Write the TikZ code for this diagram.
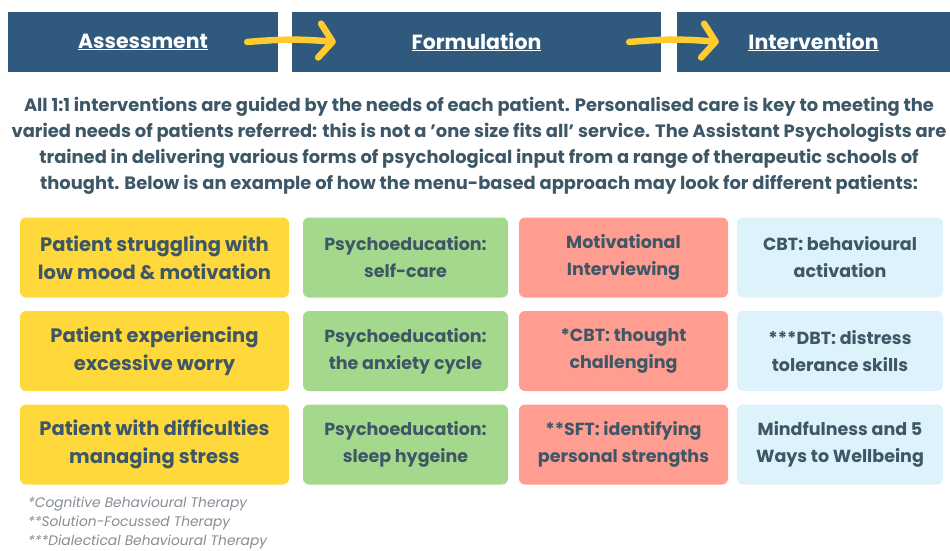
\documentclass[tikz,border=0pt]{standalone}
\usepackage{fontspec}
\setmainfont{Poppins}
\usetikzlibrary{arrows.meta, positioning}
\usepackage{xcolor}
\definecolor{hdrblue}{HTML}{2F5A7D}
\definecolor{inktext}{HTML}{3E5767}
\definecolor{moodyellow}{HTML}{FFD83C}
\definecolor{psygreen}{HTML}{A4D98D}
\definecolor{talksalmon}{HTML}{FF9D90}
\definecolor{skillblue}{HTML}{DDF2FB}
\definecolor{arrowgold}{HTML}{FFCB2E}
\definecolor{notegrey}{HTML}{858D95}

\begin{document}
\begin{tikzpicture}[
    x=1pt, y=-1pt,
    header/.style={rectangle, fill=hdrblue, text=white, minimum height=60pt, inner sep=0pt, font=\fontsize{20.5}{22}\selectfont\bfseries},
    cell/.style={rectangle, rounded corners=6pt, text=inktext, align=center, minimum height=80pt, inner sep=0pt, font=\fontsize{19.5}{28}\selectfont\bfseries},
    patient/.style={cell, fill=moodyellow, minimum width=269pt},
    psyed/.style={cell, fill=psygreen, minimum width=205pt, font=\fontsize{17.5}{27}\selectfont\bfseries},
    therapy/.style={cell, fill=talksalmon, minimum width=209pt, font=\fontsize{17.5}{27}\selectfont\bfseries},
    skills/.style={cell, fill=skillblue, minimum width=206pt, font=\fontsize{17.5}{27}\selectfont\bfseries},
    brush/.style={arrowgold, line width=6.5pt, line cap=round, -{Straight Barb[length=13pt, width=34pt, round]}},
    note/.style={anchor=west, text=notegrey, inner sep=0pt, font=\fontsize{13.8}{15}\selectfont\itshape}
]
\useasboundingbox (0,0) rectangle (950,551);

% stage headers
\node[header, minimum width=270pt] (assess) at (143,42) {\underline{Assessment}};
\node[header, minimum width=369pt] (formul) at (476.5,42) {\underline{Formulation}};
\node[header, minimum width=273pt] (interv) at (813.5,42) {\underline{Intervention}};

\draw[brush] ([xshift=-31pt]assess.east) to[bend left=5] ([xshift=44pt]formul.west);
\draw[brush] ([xshift=-32pt]formul.east) to[bend left=5] ([xshift=42pt]interv.west);

% intro text
\node[text=inktext, align=center, inner sep=0pt, font=\fontsize{17.9}{26}\selectfont\bfseries] (intro) at (479,146)
  {All 1:1 interventions are guided by the needs of each patient. Personalised care is key to meeting the\\
   varied needs of patients referred: this is not a 'one size fits all' service. The Assistant Psychologists are\\
   trained in delivering various forms of psychological input from a range of therapeutic schools of\\
   thought. Below is an example of how the menu-based approach may look for different patients:};

% menu grid
\node[patient] (pmood) at (154.5,257.5) {Patient struggling with\\low mood \& motivation};
\node[psyed] (pselfcare) at (405.5,257.5) {Psychoeducation:\\self-care};
\node[therapy] (tmotiv) at (623.5,257.5) {Motivational\\Interviewing};
\node[skills] (sactiv) at (840,257.5) {CBT: behavioural\\activation};

\node[patient] (pworry) at (154.5,351) {Patient experiencing\\excessive worry};
\node[psyed] (panxiety) at (405.5,351) {Psychoeducation:\\the anxiety cycle};
\node[therapy] (tthought) at (623.5,351) {*CBT: thought\\challenging};
\node[skills] (sdistress) at (840,351) {***DBT: distress\\tolerance skills};

\node[patient] (pstress) at (154.5,444.5) {Patient with difficulties\\managing stress};
\node[psyed] (psleep) at (405.5,444.5) {Psychoeducation:\\sleep hygeine};
\node[therapy] (tstrength) at (623.5,444.5) {**SFT: identifying\\personal strengths};
\node[skills] (swellbeing) at (840,444.5) {Mindfulness and 5\\Ways to Wellbeing};

% footnotes
\node[note] (ncbt) at (28,504) {*Cognitive Behavioural Therapy};
\node[note] (nsft) at (28,523) {**Solution-Focussed Therapy};
\node[note] (ndbt) at (28,542) {***Dialectical Behavioural Therapy};

\end{tikzpicture}
\end{document}
